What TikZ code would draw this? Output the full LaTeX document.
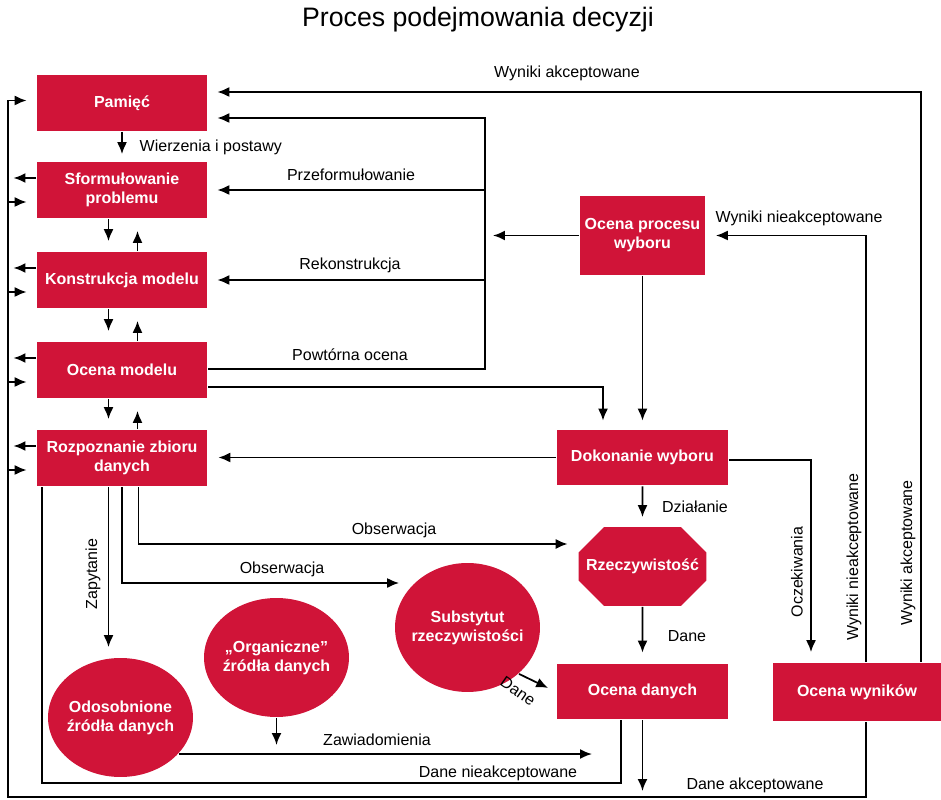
\documentclass[tikz,border=0pt]{standalone}
\usepackage{fontspec}
\setmainfont{Liberation Sans}
\usetikzlibrary{arrows.meta,shapes.geometric,shapes.misc}
\definecolor{czerwien}{RGB}{208,20,56}
\begin{document}
\begin{tikzpicture}[x=0.02cm,y=-0.02cm,line width=1pt,font=\fontsize{9.1}{10.8}\selectfont,
	blok/.style={fill=czerwien,text=white,font=\fontsize{9.1}{10.8}\selectfont\bfseries,align=center,inner sep=0pt,minimum width=3.42cm,minimum height=1.12cm},
	owal/.style={blok,ellipse,inner sep=-1cm,minimum width=2.9cm,minimum height=2.38cm},
	strz/.style={-{Latex[length=0.24cm,width=0.2cm]}}]
	\useasboundingbox (0,0) rectangle (941,800);
	\node[font=\fontsize{15.2}{18}\selectfont] (tytul) at (478,20) {Proces podejmowania decyzji};
	\node[blok] (pam) at (122,103) {Pamięć};
	\node[blok] (sfo) at (122,190) {Sformułowanie\\problemu};
	\node[blok] (kon) at (122,280) {Konstrukcja modelu};
	\node[blok] (ocm) at (122,370) {Ocena modelu};
	\node[blok] (roz) at (122,458) {Rozpoznanie zbioru\\danych};
	\node[blok,minimum width=2.5cm,minimum height=1.58cm] (opw) at (642.5,235.5) {Ocena procesu\\wyboru};
	\node[blok] (dok) at (642.5,457.5) {Dokonanie wyboru};
	\node[blok,chamfered rectangle,chamfered rectangle xsep=0.34cm,chamfered rectangle ysep=0.36cm,minimum width=2.5cm,minimum height=1.58cm] (rzc) at (642.5,566.5) {Rzeczywistość};
	\node[blok] (ocd) at (642.5,691.5) {Ocena danych};
	\node[blok,minimum width=3.36cm,minimum height=1.16cm] (ocw) at (857,692) {Ocena wyników};
	\node[owal,minimum height=2.58cm] (sub) at (467.5,627.5) {Substytut\\rzeczywistości};
	\node[owal] (org) at (276.5,657.5) {„Organiczne”\\źródła danych};
	\node[owal] (odo) at (120.5,717.5) {Odosobnione\\źródła danych};
	\coordinate (lewa) at (8,797);
	\coordinate (pion) at (485,118);
	\coordinate (dno) at (42,783);
	\coordinate (zaw) at (592,754);
	\coordinate (akc) at (642.5,791);
	\draw[strz,shorten >=0.14cm] (pam) -- (sfo);
	\foreach \a/\b in {sfo/kon,kon/ocm,ocm/roz}{
		\draw[strz,shorten >=0.2cm] ([xshift=-0.27cm]\a.south) -- ([xshift=-0.27cm]\b.north);
		\draw[strz,shorten >=0.24cm] ([xshift=0.31cm]\b.north) -- ([xshift=0.31cm]\a.south);
	}
	\draw[strz,shorten >=0.18cm] ([xshift=0.18cm]ocw.south) |- (lewa) |- ([yshift=0.05cm]pam.west);
	\foreach \n in {sfo,kon,ocm,roz}{
		\path ([yshift=-0.24cm]\n.west) coordinate (we) ([yshift=0.24cm]\n.west) coordinate (wy);
		\draw[strz,shorten >=0.18cm] (lewa |- we) -- (we);
		\draw[strz,shorten >=0.11cm] (wy) -- (lewa |- wy);
	}
	\draw[strz,shorten >=0.18cm] ([xshift=1.28cm]ocw.north) |- ([yshift=0.22cm]pam.east);
	\draw[strz,shorten >=0.2cm] ([xshift=0.18cm]ocw.north) |- (opw.east);
	\draw[strz,shorten >=0.18cm] ([yshift=0.02cm]ocm.east) -| (pion) -- (pion -| pam.east);
	\draw[strz,shorten >=0.18cm] (pion |- sfo.east) -- (sfo.east);
	\draw[strz,shorten >=0.18cm] (pion |- kon.east) -- (kon.east);
	\draw[strz,shorten >=0.16cm] (opw.west) -- (pion |- opw.west);
	\draw[strz,shorten >=0.16cm] ([yshift=-0.34cm]ocm.east) -| ([xshift=-0.79cm]dok.north);
	\draw[strz,shorten >=0.16cm] (opw) -- (dok);
	\draw[strz,shorten >=0.2cm] (dok.west) -- (dok.west -| roz.east);
	\draw[strz,shorten >=0.18cm] (dok) -- (rzc);
	\draw[strz,shorten >=0.2cm] ([yshift=-0.05cm]dok.east) -| ([xshift=-0.92cm]ocw.north);
	\draw[strz,shorten >=0.2cm] ([xshift=0.33cm]roz.south) |- ([yshift=0.45cm]rzc.west);
	\draw[strz] (roz.south) |- ([xshift=0.1cm,yshift=0.89cm]sub.west);
	\path ([xshift=-0.27cm]roz.south) coordinate (zap);
	\draw[strz,shorten >=0.2cm] (zap) -- (zap |- odo.north);
	\draw ([xshift=-0.43cm]ocd.south) |- (dno) -- (dno |- roz.south);
	\draw[strz] (odo.-32) -- (zaw |- odo.-32);
	\draw[strz,shorten >=0.18cm] (org) -- (org |- zaw);
	\draw[strz] (sub.-42) -- ([xshift=-0.16cm,yshift=0.07cm]ocd.west);
	\draw[strz,shorten >=0.2cm] (rzc) -- (ocd);
	\draw[strz] (ocd) -- (akc);
	\node[anchor=west] (wierz) at (133,147) {Wierzenia i postawy};
	\node (przef) at (351,175) {Przeformułowanie};
	\node (rekon) at (350,265) {Rekonstrukcja};
	\node (powt) at (350,355) {Powtórna ocena};
	\node (wakc) at (567,73) {Wyniki akceptowane};
	\node (wniek) at (799,218) {Wyniki nieakceptowane};
	\node (dzial) at (695,507) {Działanie};
	\node (obs1) at (394,530) {Obserwacja};
	\node (obs2) at (282,569) {Obserwacja};
	\node[rotate=90] (zapyt) at (93,574) {Zapytanie};
	\node (dane1) at (687,636) {Dane};
	\node[rotate=-35] (dane2) at (518,691) {Dane};
	\node (zawiad) at (377,740) {Zawiadomienia};
	\node (dniek) at (498,773) {Dane nieakceptowane};
	\node (dakc) at (755,785) {Dane akceptowane};
	\node[rotate=90] (oczek) at (797,572) {Oczekiwania};
	\node[rotate=90] (wniek2) at (854,557) {Wyniki nieakceptowane};
	\node[rotate=90] (wakc2) at (908,553) {Wyniki akceptowane};
\end{tikzpicture}
\end{document}
